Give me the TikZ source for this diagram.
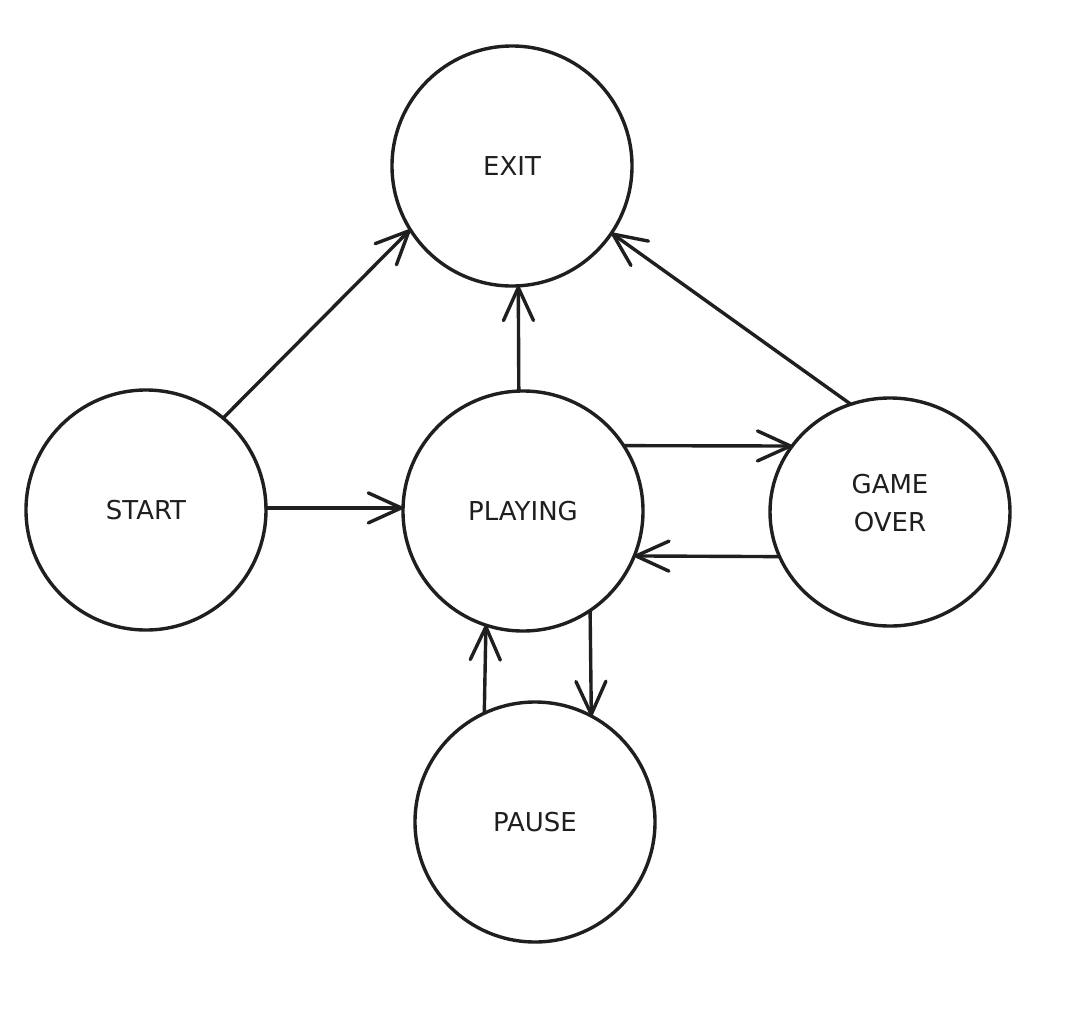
\documentclass[tikz,border=0pt]{standalone}
\usepackage{fontspec}
\setmainfont{DejaVu Sans}
\usetikzlibrary{arrows.meta,shapes.geometric}
\begin{document}
\begin{tikzpicture}[x=1pt,y=-1pt,
  state/.style={draw=black!88, line width=3.4pt, circle, minimum size=240pt, inner sep=0pt, outer sep=0pt,
    font=\fontsize{26}{38}\selectfont, align=center, text=black!88},
  ovalstate/.style={state, ellipse, minimum width=240pt, minimum height=228pt},
  conn/.style={draw=black!88, line width=3.4pt, line cap=round,
    -{Straight Barb[length=33pt,width=30pt,line width=3.4pt,round]}}]
\useasboundingbox (0,0) rectangle (1068,1034);
\fill[white] (0,0) rectangle (1068,1034);
\node[state] (exit) at (512,166) {EXIT};
\node[state] (start) at (146,510) {START};
\node[state] (playing) at (523,511) {PLAYING};
\node[ovalstate] (gameover) at (890,512) {\raisebox{7pt}[\height][\depth]{\begin{tabular}{@{}c@{}}GAME\\OVER\end{tabular}}};
\node[state] (pause) at (535,822) {PAUSE};
\draw[conn] (start.50) -- (exit.212);
\draw[conn] (playing.92) -- (exit.-87.5);
\draw[conn] (gameover.110) -- (exit.-34);
\draw[conn] (start.1) -- (start.1 -| playing.west);
\draw[conn] (playing.33) -- (gameover.146);
\draw[conn] (gameover.202) -- (playing.-22.5);
\draw[conn] (playing.-56) -- (pause.62);
\draw[conn] (pause.115) -- (playing.252);
\end{tikzpicture}
\end{document}
